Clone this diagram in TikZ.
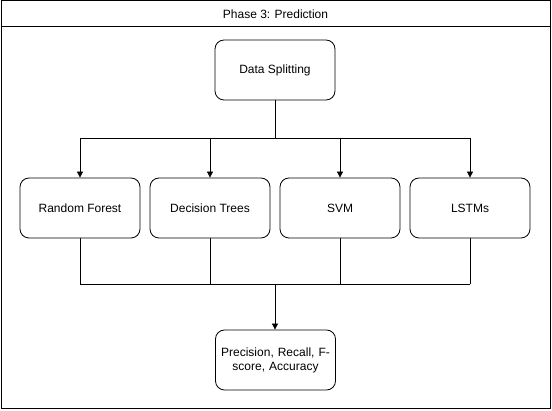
\documentclass[tikz,border=0pt]{standalone}
\usepackage{fontspec}
\setmainfont{Liberation Sans}
\usetikzlibrary{arrows.meta}
\begin{document}
\begin{tikzpicture}[x=1pt,y=-1pt,
  box/.style={draw, rounded corners=9pt, minimum width=120pt, minimum height=60pt, align=center, font=\fontsize{12}{14}\selectfont, line width=0.8pt},
  conn/.style={draw, line width=0.8pt},
  arr/.style={conn, -{Triangle[length=6pt,width=6pt]}}]
\useasboundingbox (0,0) rectangle (552,411);
\draw[line width=1pt] (1,1) rectangle (550,409);
\draw[line width=1pt] (1,27) -- (550,27);
\node[font=\fontsize{12}{14}\selectfont] (title) at (275.5,14) {Phase 3: Prediction};
\node[box] (ds) at (275,70) {Data Splitting};
\node[box] (rf) at (80,208) {Random Forest};
\node[box] (dt) at (210,208) {Decision Trees};
\node[box] (svm) at (340,208) {SVM};
\node[box] (lstm) at (470,208) {LSTMs};
\node[box, text width=112pt] (res) at (275.5,360) {Precision, Recall, F-\\score, Accuracy};
\coordinate (top) at (275,138);
\coordinate (tl) at (80,138);
\coordinate (tr) at (470,138);
\coordinate (bot) at (275,284);
\coordinate (bl) at (80,284);
\coordinate (br) at (470,284);
\draw[conn] (ds.south) -- (top);
\draw[conn] (tl) -- (tr);
\draw[arr] (tl) -- (rf.north);
\draw[arr] (dt.north |- top) -- (dt.north);
\draw[arr] (svm.north |- top) -- (svm.north);
\draw[arr] (tr) -- (lstm.north);
\draw[conn] (rf.south) -- (bl);
\draw[conn] (dt.south) -- (dt.south |- bot);
\draw[conn] (svm.south) -- (svm.south |- bot);
\draw[conn] (lstm.south) -- (br);
\draw[conn] (bl) -- (br);
\draw[arr] (bot) -- (res.north -| bot);
\end{tikzpicture}
\end{document}
